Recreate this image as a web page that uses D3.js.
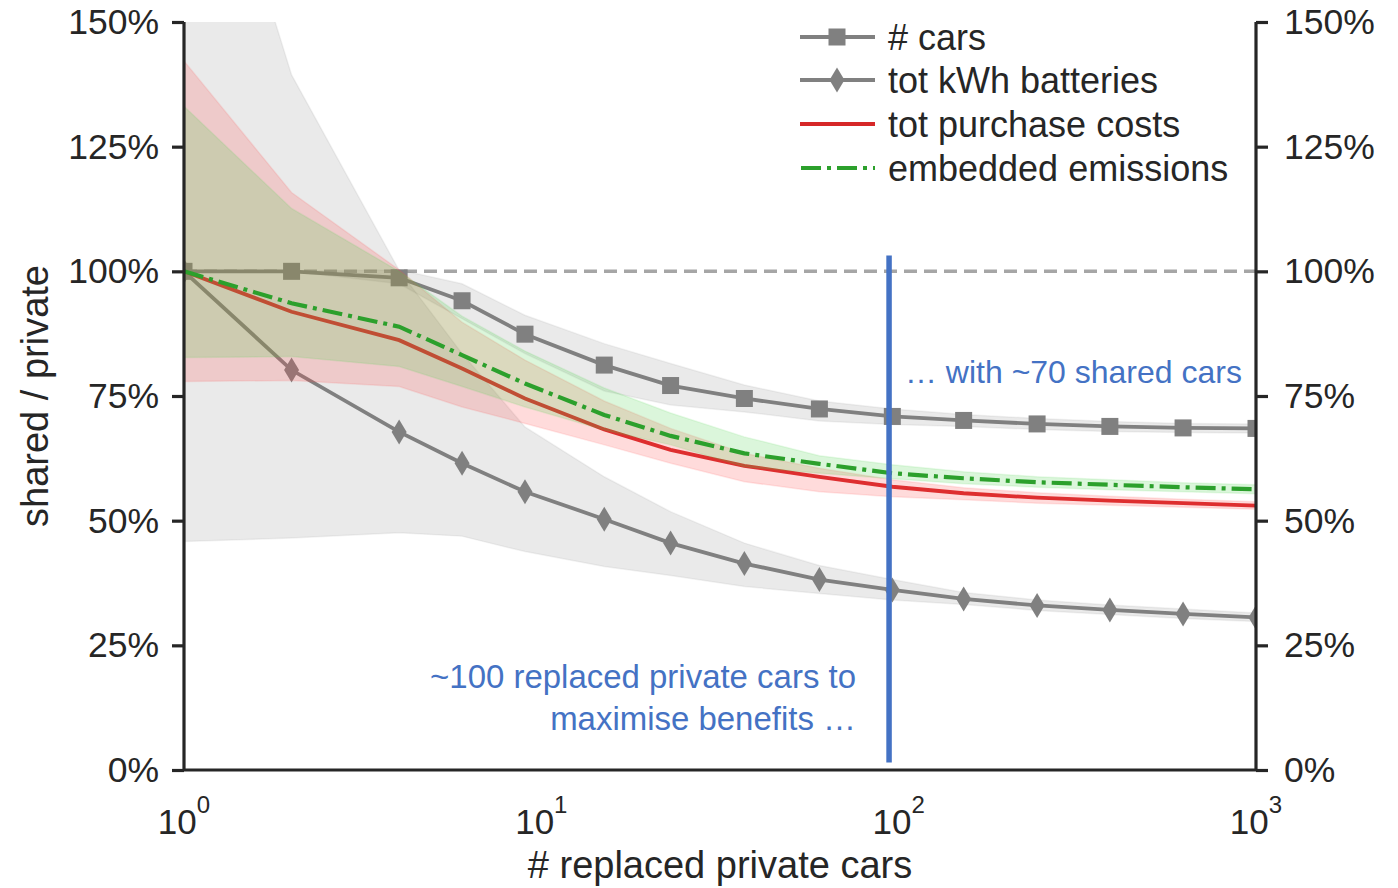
<!DOCTYPE html>
<html>
<head>
<meta charset="utf-8">
<script src="https://cdn.jsdelivr.net/npm/d3@7"></script>
<style>
  html, body { margin: 0; padding: 0; background: #ffffff; }
  svg { display: block; }
  text { font-family: "Liberation Sans", Arial, sans-serif; fill: #262626; }
</style>
</head>
<body>
<svg id="chart" width="1398" height="888"></svg>
<script>
// Number of replaced private cars (log axis)
const replaced = [1, 2, 4, 6, 9, 15, 23, 37, 60, 96, 152, 244, 390, 625, 1000];

// Shared / private ratios, in %
const cars      = [100, 100, 98.7, 94.1, 87.4, 81.2, 77.1, 74.5, 72.4, 70.9, 70.1, 69.4, 68.9, 68.6, 68.5];
const carsLow   = [100, 100, 97.5, 90.5, 83.5, 76.0, 73.2, 71.8, 70.0, 69.3, 68.9, 68.3, 67.9, 67.7, 67.6];
const carsHigh  = [100, 100, 100.3, 97.5, 91.2, 85.5, 81.5, 77.2, 74.0, 72.4, 71.3, 70.5, 69.9, 69.5, 69.4];

const battery     = [100, 80.2, 67.8, 61.5, 55.8, 50.3, 45.5, 41.4, 38.2, 36.1, 34.3, 33.0, 32.1, 31.3, 30.6];
const batteryLow  = [45.8, 46.5, 47.6, 46.9, 43.8, 40.8, 39.0, 36.8, 35.4, 34.1, 33.2, 32.0, 31.2, 30.4, 29.8];
const batteryHigh = [209, 139.4, 100.2, 83.5, 68.8, 58.8, 51.8, 45.5, 41.0, 38.2, 35.6, 34.1, 33.1, 32.3, 31.5];

const cost      = [100, 91.9, 86.2, 80.5, 74.5, 68.3, 64.2, 61.0, 58.8, 56.8, 55.5, 54.6, 54.0, 53.5, 53.0];
const costLow   = [77.9, 78.1, 76.9, 72.8, 69.5, 65.2, 61.5, 57.8, 55.8, 54.8, 54.2, 53.5, 53.1, 52.7, 52.3];
const costHigh  = [142.2, 115.8, 100.3, 89.8, 82.2, 74.0, 68.5, 63.5, 60.5, 58.2, 56.6, 55.6, 54.9, 54.3, 53.8];

const emissions     = [100, 93.6, 88.9, 83.2, 77.5, 71.2, 67.0, 63.5, 61.4, 59.5, 58.5, 57.7, 57.2, 56.7, 56.3];
const emissionsLow  = [82.7, 82.9, 80.9, 76.9, 72.8, 68.2, 65.2, 60.8, 59.5, 58.4, 57.4, 56.7, 56.2, 55.8, 55.4];
const emissionsHigh = [133.1, 112.6, 100, 91.0, 84.0, 76.6, 71.6, 66.8, 63.0, 61.2, 59.8, 58.8, 58.2, 57.6, 57.2];

const yTicks = [0, 25, 50, 75, 100, 125, 150];
const xTicks = [1, 10, 100, 1000];
const xExponents = ["0", "1", "2", "3"];

const legendLabels = ["# cars", "tot kWh batteries", "tot purchase costs", "embedded emissions"];

// Marked optimum
const optimumX = 94;
const optimumSpan = [1.5, 103.2];
const noteRight = "\u2026 with ~70 shared cars";
const noteLeft = ["~100 replaced private cars to", "maximise benefits \u2026"];

const GRAY = "#808080", RED = "#d62728", GREEN = "#2ca02c", BLUE = "#4472c4", INK = "#262626";

const svg = d3.select("#chart");
const x = d3.scaleLog().domain([1, 1000]).range([184, 1256]);
const y = d3.scaleLinear().domain([0, 150]).range([770, 22]);

svg.append("clipPath").attr("id", "plot-clip")
  .append("rect").attr("x", x(1)).attr("y", y(150)).attr("width", x(1000) - x(1)).attr("height", y(0) - y(150));

const plot = svg.append("g").attr("clip-path", "url(#plot-clip)");

function bandArea(lo, hi) {
  return d3.area()
    .x((d, i) => x(replaced[i]))
    .y0((d, i) => y(lo[i]))
    .y1((d, i) => y(hi[i]))(replaced);
}
function seriesLine(vals) {
  return d3.line().x((d, i) => x(replaced[i])).y((d, i) => y(vals[i]))(replaced);
}
function drawBand(lo, hi, color, alpha) {
  plot.append("path").attr("d", bandArea(lo, hi))
    .attr("fill", color).attr("fill-opacity", alpha)
    .attr("stroke", color).attr("stroke-opacity", alpha * 0.6).attr("stroke-width", 1.5);
}

// Reference level: shared equals private
plot.append("line")
  .attr("x1", x(1)).attr("x2", x(1000)).attr("y1", y(100)).attr("y2", y(100))
  .attr("stroke", "#a6a6a6").attr("stroke-width", 3.5).attr("stroke-dasharray", "13,7");

// Gray uncertainty bands
drawBand(batteryLow, batteryHigh, GRAY, 0.17);
drawBand(carsLow, carsHigh, GRAY, 0.17);

// Battery capacity series with thin diamonds
plot.append("path").attr("d", seriesLine(battery)).attr("fill", "none")
  .attr("stroke", GRAY).attr("stroke-width", 3.8);
const diamond = (cx, cy) => `M${cx},${cy - 12.5}L${cx + 7.5},${cy}L${cx},${cy + 12.5}L${cx - 7.5},${cy}Z`;
plot.selectAll(".dia").data(battery).enter().append("path")
  .attr("d", (d, i) => diamond(x(replaced[i]), y(d))).attr("fill", GRAY);

// Car count series with squares
plot.append("path").attr("d", seriesLine(cars)).attr("fill", "none")
  .attr("stroke", GRAY).attr("stroke-width", 3.8);
plot.selectAll(".sq").data(cars).enter().append("rect")
  .attr("x", (d, i) => x(replaced[i]) - 8.5).attr("y", d => y(d) - 8.5)
  .attr("width", 17).attr("height", 17).attr("fill", GRAY);

// Purchase costs
plot.append("path").attr("d", seriesLine(cost)).attr("fill", "none")
  .attr("stroke", RED).attr("stroke-width", 3.8);
drawBand(costLow, costHigh, "#ff4d4d", 0.2);

// Embedded emissions
drawBand(emissionsLow, emissionsHigh, "#4cd44c", 0.2);
plot.append("path").attr("d", seriesLine(emissions)).attr("fill", "none")
  .attr("stroke", GREEN).attr("stroke-width", 4.2).attr("stroke-dasharray", "20,6,4,6");

// Optimum marker
svg.append("line")
  .attr("x1", x(optimumX)).attr("x2", x(optimumX))
  .attr("y1", y(optimumSpan[0])).attr("y2", y(optimumSpan[1]))
  .attr("stroke", BLUE).attr("stroke-width", 5.5);

// Axes
const yLeft = svg.append("g").attr("transform", `translate(${x(1)},0)`)
  .call(d3.axisLeft(y).tickValues(yTicks).tickFormat(d => d + "%").tickSize(12).tickPadding(13));
const yRight = svg.append("g").attr("transform", `translate(${x(1000)},0)`)
  .call(d3.axisRight(y).tickValues(yTicks).tickFormat(d => d + "%").tickSize(12).tickPadding(16));
const xBottom = svg.append("g").attr("transform", `translate(0,${y(0)})`)
  .call(d3.axisBottom(x).tickValues(xTicks).tickSize(0).tickFormat(""));

[yLeft, yRight, xBottom].forEach(g => {
  g.select(".domain").attr("stroke", INK).attr("stroke-width", 3.2);
  g.selectAll(".tick line").attr("stroke", INK).attr("stroke-width", 3.2);
  g.selectAll("text").attr("font-size", 35.5).attr("fill", INK)
    .attr("font-family", "'Liberation Sans', Arial, sans-serif");
});
yLeft.select(".domain").attr("d", `M0,${y(150)}V${y(0)}`);
yRight.select(".domain").attr("d", `M0,${y(150)}V${y(0)}`);
xBottom.select(".domain").attr("d", `M0,0H${x(1000)-x(0.9999)}`).attr("transform", `translate(${x(1)},0)`);

// Powers of ten under the x axis
xTicks.forEach((t, i) => {
  const lbl = svg.append("text").attr("x", x(t)).attr("y", 834)
    .attr("text-anchor", "middle").attr("font-size", 35);
  lbl.append("tspan").text("10");
  lbl.append("tspan").attr("dy", -21).attr("font-size", 24).text(xExponents[i]);
});

// Axis titles
svg.append("text").attr("x", x(Math.sqrt(1000 * 1))).attr("y", 878)
  .attr("text-anchor", "middle").attr("font-size", 38).text("# replaced private cars");
svg.append("text").attr("transform", `translate(48,${y(75)}) rotate(-90)`)
  .attr("text-anchor", "middle").attr("font-size", 38).text("shared / private");

// Legend
const legendY = [37, 80, 124, 168];
const legend = svg.append("g");
legendLabels.forEach((lab, i) => {
  const gy = legendY[i];
  const col = i < 2 ? GRAY : (i === 2 ? RED : GREEN);
  const ln = legend.append("line").attr("x1", 800).attr("x2", 875).attr("y1", gy).attr("y2", gy)
    .attr("stroke", col).attr("stroke-width", i === 3 ? 4.2 : 3.8);
  if (i === 3) ln.attr("stroke-dasharray", "20,6,4,6").attr("x1", 801);
  if (i === 0) legend.append("rect").attr("x", 828.5).attr("y", gy - 8.5).attr("width", 17).attr("height", 17).attr("fill", GRAY);
  if (i === 1) legend.append("path").attr("d", diamond(837, gy)).attr("fill", GRAY);
  legend.append("text").attr("x", 888).attr("y", gy).attr("dy", "0.35em")
    .attr("font-size", 36).text(lab);
});

// Annotations
function fitText(sel, width) {
  const w = sel.node().getComputedTextLength();
  const fs = parseFloat(sel.attr("font-size"));
  sel.attr("font-size", fs * width / w);
}
const noteFont = "'Open Sans', 'Noto Sans', sans-serif";
const n1 = svg.append("text").attr("x", 905).attr("y", 383).attr("font-size", 30)
  .attr("font-family", noteFont).style("fill", BLUE).text(noteRight);
fitText(n1, 337);
const n2 = svg.append("text").attr("x", 856).attr("y", 688).attr("text-anchor", "end").attr("font-size", 30)
  .attr("font-family", noteFont).style("fill", BLUE).text(noteLeft[0]);
fitText(n2, 426);
svg.append("text").attr("x", 856).attr("y", 730).attr("text-anchor", "end").attr("font-size", n2.attr("font-size"))
  .attr("font-family", noteFont).style("fill", BLUE).text(noteLeft[1]);
</script>
</body>
</html>
